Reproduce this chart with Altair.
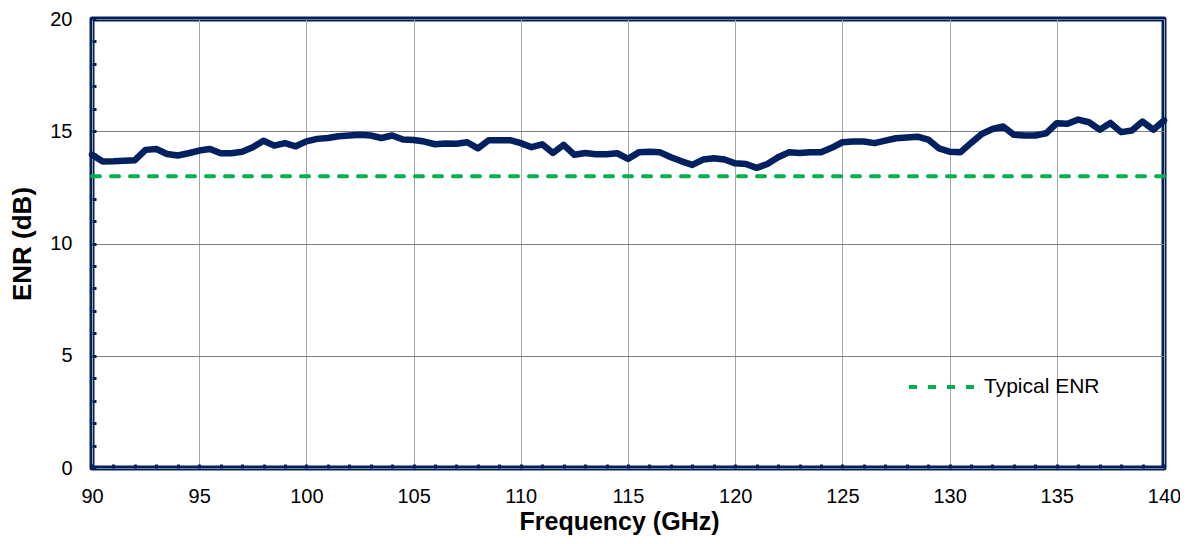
import altair as alt
import pandas as pd

freq_ghz = [90 + 0.5 * i for i in range(101)]
enr_db = [
    13.95, 13.65, 13.66, 13.69, 13.71, 14.17, 14.21, 13.99, 13.92, 14.02,
    14.14, 14.21, 14.02, 14.02, 14.09, 14.29, 14.58, 14.36, 14.47, 14.33,
    14.55, 14.66, 14.70, 14.78, 14.81, 14.84, 14.81, 14.70, 14.81, 14.63,
    14.61, 14.54, 14.42, 14.45, 14.44, 14.51, 14.24, 14.60, 14.60, 14.60,
    14.47, 14.29, 14.42, 14.03, 14.39, 13.95, 14.03, 13.98, 13.98, 14.02,
    13.77, 14.06, 14.09, 14.06, 13.84, 13.66, 13.50, 13.74, 13.80, 13.74,
    13.57, 13.54, 13.37, 13.54, 13.84, 14.06, 14.03, 14.06, 14.06, 14.26,
    14.51, 14.54, 14.54, 14.47, 14.58, 14.69, 14.72, 14.76, 14.63, 14.24,
    14.09, 14.06, 14.48, 14.88, 15.10, 15.21, 14.84, 14.81, 14.81, 14.91,
    15.36, 15.33, 15.52, 15.40, 15.07, 15.37, 14.96, 15.03, 15.43, 15.07,
    15.48,
]
typical_label = ["Typical ENR"]
typical_enr = [13]

x_ticks = list(range(90, 141))
y_ticks = list(range(0, 21))

NAVY = "#002060"
GREEN = "#00B050"
FONT = "Liberation Sans"

df = pd.DataFrame({"freq": freq_ghz, "enr": enr_db})
df_typ = pd.DataFrame({"series": typical_label, "enr": typical_enr})

grid_cond = {"condition": {"test": "datum.value % 5 === 0", "value": 1}, "value": 0}
lbl = "datum.value % 5 === 0 ? datum.label : ''"

x_axis = alt.Axis(
    title="Frequency (GHz)",
    values=x_ticks,
    labelExpr=lbl,
    labelOverlap=False,
    labelFlush=False,
    labelFontSize=20,
    labelFont=FONT,
    labelColor="#000000",
    labelPadding=18,
    titleFont=FONT,
    titleFontSize=25,
    titleFontWeight="bold",
    titleColor="#000000",
    titlePadding=3,
    titleX=527,
    titleAlign="center",
    domain=False,
    offset=-4,
    tickSize=4,
    tickWidth=3,
    tickColor=NAVY,
    grid=True,
    gridColor="#A6A6A6",
    gridWidth=1,
    gridOpacity=grid_cond,
)
y_axis = alt.Axis(
    title="ENR (dB)",
    values=y_ticks,
    labelExpr=lbl,
    labelOverlap=False,
    labelFlush=False,
    labelFontSize=20,
    labelFont=FONT,
    labelColor="#000000",
    labelPadding=20,
    titleFont=FONT,
    titleFontSize=26,
    titleFontWeight="bold",
    titleColor="#000000",
    titlePadding=14,
    domain=False,
    offset=-4,
    tickSize=4,
    tickWidth=3,
    tickColor=NAVY,
    grid=True,
    gridColor="#7F7F7F",
    gridWidth=1,
    gridOpacity=grid_cond,
)

x_scale = alt.Scale(domain=[90, 140], nice=False, zero=False)
y_scale = alt.Scale(domain=[0, 20], nice=False)

typ = alt.Chart(df_typ).mark_rule(
    strokeWidth=4, strokeDash=[8, 11], strokeCap="round"
).encode(
    y=alt.Y("enr:Q", scale=y_scale, axis=y_axis),
    color=alt.Color(
        "series:N",
        scale=alt.Scale(domain=typical_label, range=[GREEN]),
        legend=alt.Legend(
            title=None,
            orient="none",
            legendX=815,
            legendY=332,
            symbolType="stroke",
            symbolSize=4624,
            symbolStrokeWidth=4,
            symbolDash=[8, 11],
            labelFont=FONT,
            labelFontSize=21,
            labelColor="#000000",
            labelOffset=5,
            padding=0,
        ),
    ),
)

line = alt.Chart(df).mark_line(
    color=NAVY, strokeWidth=6.5, strokeJoin="round", strokeCap="round"
).encode(
    x=alt.X("freq:Q", scale=x_scale, axis=x_axis),
    y=alt.Y("enr:Q", scale=y_scale, axis=y_axis),
)

chart = alt.layer(typ, line).properties(
    width=1072,
    height=449,
    padding={"left": 84, "top": 11, "right": 16, "bottom": 68},
    autosize=alt.AutoSizeParams(type="none"),
    background="#FFFFFF",
).configure_view(
    stroke=NAVY, strokeWidth=5, strokeJoin="round"
)

chart.save("out.html", embed_options={"renderer": "svg", "actions": False})
